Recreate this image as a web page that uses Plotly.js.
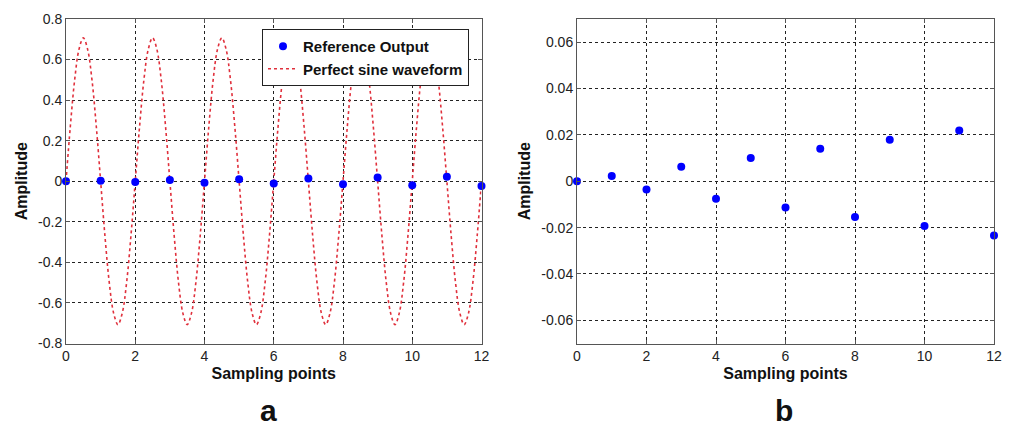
<!DOCTYPE html>
<html>
<head>
<meta charset="utf-8">
<script src="https://cdn.plot.ly/plotly-3.0.1.min.js"></script>
<style>html,body{margin:0;padding:0;background:#fff;}#chart{width:1009px;height:429px;}</style>
</head>
<body>
<div id="chart"></div>
<script>
// Sampling points and reference output
var samplePoints = [0, 1, 2, 3, 4, 5, 6, 7, 8, 9, 10, 11, 12];
var referenceOutput = [0, 0.0023, -0.0036, 0.0063, -0.0076, 0.0100, -0.0113, 0.0140, -0.0154, 0.0179, -0.0193, 0.0219, -0.0234];

// Perfect sine waveform, read every 1/8 sampling point (x0 = 0, dx = 0.125)
var sineStart = 0;
var sineStep = 0.125;
var sineValues = [
  0, 0.27, 0.5, 0.65, 0.707, 0.65, 0.5, 0.27, 0, -0.27, -0.5, -0.65, -0.707, -0.65, -0.5, -0.27,
  0, 0.27, 0.5, 0.65, 0.707, 0.65, 0.5, 0.27, 0, -0.27, -0.5, -0.65, -0.707, -0.65, -0.5, -0.27,
  0, 0.27, 0.5, 0.65, 0.707, 0.65, 0.5, 0.27, 0, -0.27, -0.5, -0.65, -0.707, -0.65, -0.5, -0.27,
  0, 0.27, 0.5, 0.65, 0.707, 0.65, 0.5, 0.27, 0, -0.27, -0.5, -0.65, -0.707, -0.65, -0.5, -0.27,
  0, 0.27, 0.5, 0.65, 0.707, 0.65, 0.5, 0.27, 0, -0.27, -0.5, -0.65, -0.707, -0.65, -0.5, -0.27,
  0, 0.27, 0.5, 0.65, 0.707, 0.65, 0.5, 0.27, 0, -0.27, -0.5, -0.65, -0.707, -0.65, -0.5, -0.27,
  0
];

// Tick labels
var xTickVals = [0, 2, 4, 6, 8, 10, 12];
var xTickText = ["0", "2", "4", "6", "8", "10", "12"];
var yTickValsA = [-0.8, -0.6, -0.4, -0.2, 0, 0.2, 0.4, 0.6, 0.8];
var yTickTextA = ["-0.8", "-0.6", "-0.4", "-0.2", "0", "0.2", "0.4", "0.6", "0.8"];
var yTickValsB = [-0.06, -0.04, -0.02, 0, 0.02, 0.04, 0.06];
var yTickTextB = ["-0.06", "-0.04", "-0.02", "0", "0.02", "0.04", "0.06"];

var seriesNames = ["Reference Output", "Perfect sine waveform"];
var panelLabels = ["a", "b"];
var xTitle = "Sampling points";
var yTitle = "Amplitude";

var FONT = "Liberation Sans, Arial, sans-serif";
var BLUE = "#0000ff";
var RED = "#e0303c";

var traces = [
  {
    type: "scatter", mode: "lines", name: seriesNames[1],
    x0: sineStart, dx: sineStep, y: sineValues,
    line: {color: RED, width: 1.6, dash: "dot", shape: "spline", smoothing: 1},
    xaxis: "x", yaxis: "y", legendrank: 2
  },
  {
    type: "scatter", mode: "markers", name: seriesNames[0],
    x: samplePoints, y: referenceOutput,
    marker: {color: BLUE, size: 8},
    cliponaxis: false,
    xaxis: "x", yaxis: "y", legendrank: 1
  },
  {
    type: "scatter", mode: "markers", name: seriesNames[0],
    x: samplePoints, y: referenceOutput,
    marker: {color: BLUE, size: 8},
    cliponaxis: false, showlegend: false,
    xaxis: "x2", yaxis: "y2"
  }
];

function xAxis(domain, anchor) {
  return {
    domain: domain, anchor: anchor, range: [0, 12],
    tickmode: "array", tickvals: xTickVals, ticktext: xTickText,
    ticks: "inside", ticklen: 4, tickcolor: "#555",
    showline: true, linecolor: "#555", linewidth: 1, mirror: "ticks",
    showgrid: true, gridcolor: "#222", griddash: "dot", gridwidth: 1,
    zeroline: false, automargin: false,
    tickfont: {family: FONT, size: 14, color: "#222"},
    title: {text: xTitle, font: {family: FONT, size: 16, color: "#111", weight: "bold"}, standoff: 4}
  };
}
function yAxis(domain, anchor, range, vals, text) {
  return {
    domain: domain, anchor: anchor, range: range,
    tickmode: "array", tickvals: vals, ticktext: text,
    ticks: "inside", ticklen: 4, tickcolor: "#555",
    showline: true, linecolor: "#555", linewidth: 1, mirror: "ticks",
    showgrid: true, gridcolor: "#222", griddash: "dot", gridwidth: 1,
    zeroline: false, automargin: false,
    tickfont: {family: FONT, size: 14, color: "#222"},
    title: {text: yTitle, font: {family: FONT, size: 16, color: "#111", weight: "bold"}, standoff: 6}
  };
}

var yDom = [1 - 343.5 / 429, 1 - 19 / 429];
var layout = {
  width: 1009, height: 429,
  margin: {l: 0, r: 0, t: 0, b: 0},
  paper_bgcolor: "#fff", plot_bgcolor: "#fff",
  font: {family: FONT, color: "#222"},
  showlegend: true,
  xaxis: xAxis([66 / 1009, 481.5 / 1009], "y"),
  yaxis: yAxis(yDom, "x", [-0.8, 0.8], yTickValsA, yTickTextA),
  xaxis2: xAxis([577 / 1009, 994 / 1009], "y2"),
  yaxis2: yAxis(yDom, "x2", [-0.07, 0.07], yTickValsB, yTickTextB),
  legend: {
    x: 469 / 1009, xanchor: "right", y: 1 - 29 / 429, yanchor: "top",
    bgcolor: "#fff", bordercolor: "#222", borderwidth: 1,
    font: {family: FONT, size: 15, color: "#111", weight: "bold"},
    tracegroupgap: 0
  },
  annotations: [
    {text: panelLabels[0], xref: "paper", yref: "paper", x: 268 / 1009, y: 1 - 410 / 429,
     xanchor: "center", yanchor: "middle", showarrow: false,
     font: {family: FONT, size: 30, color: "#111", weight: "bold"}},
    {text: panelLabels[1], xref: "paper", yref: "paper", x: 784 / 1009, y: 1 - 410 / 429,
     xanchor: "center", yanchor: "middle", showarrow: false,
     font: {family: FONT, size: 30, color: "#111", weight: "bold"}}
  ]
};

Plotly.newPlot("chart", traces, layout, {staticPlot: true, displayModeBar: false});
</script>
</body>
</html>
